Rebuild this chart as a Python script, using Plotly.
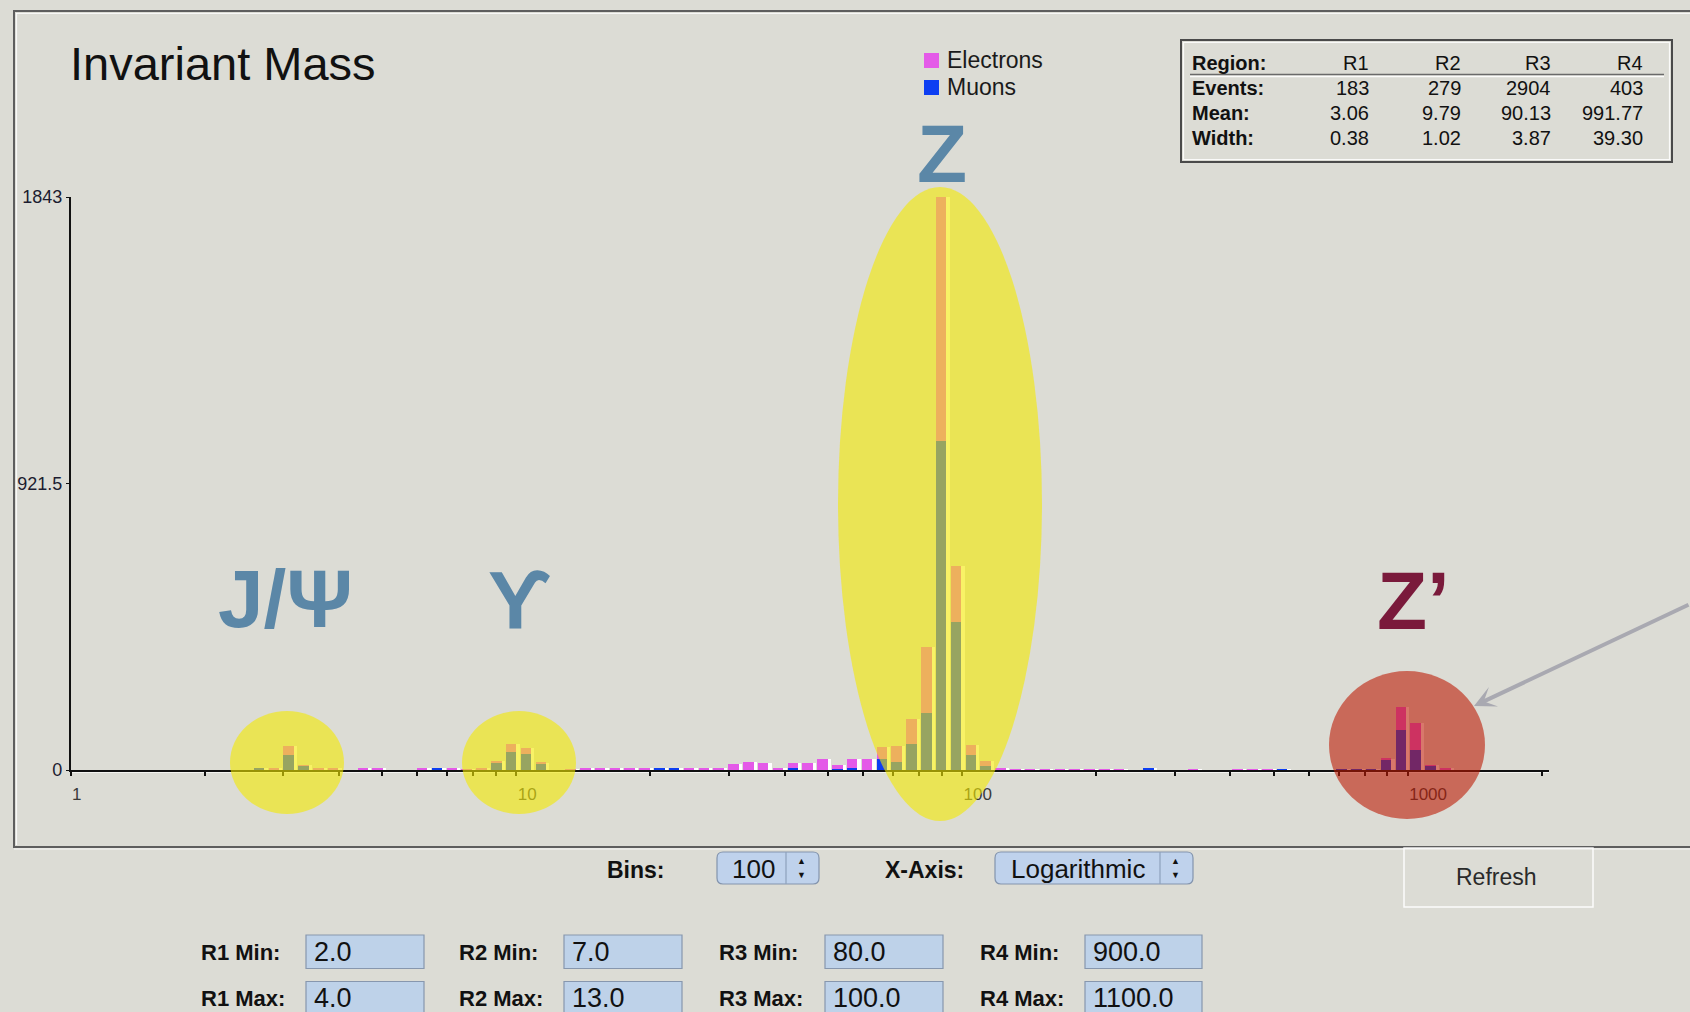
import math
import plotly.graph_objects as go

W, H = 1690, 1012

# ---------------- data ----------------
N_BINS = 100
LOG_FIRST_EDGE = 0.006      # log10(GeV) of lower edge of bin 0
LOG_BIN_WIDTH = 0.03327     # bin width in decades

electrons = [
    0, 0, 0, 0, 0, 0, 0, 0, 0, 0,
    0, 0, 0, 4, 29, 2, 4, 4, 0, 4,
    4, 0, 0, 4, 0, 4, 3, 4, 8, 24,
    21, 2, 0, 3, 4, 4, 4, 4, 4, 0,
    0, 4, 4, 5, 18, 27, 21, 8, 13, 21,
    35, 14, 28, 36, 38, 49, 79, 211, 786, 180,
    32, 18, 5, 3, 3, 3, 3, 3, 3, 3,
    3, 0, 0, 0, 0, 3, 0, 0, 3, 3,
    3, 0, 0, 0, 0, 0, 0, 0, 2, 75,
    86, 3, 5, 0, 0, 0, 0, 0, 0, 0,
]
muons = [
    0, 0, 0, 0, 0, 0, 0, 0, 0, 0,
    0, 0, 4, 0, 48, 14, 0, 0, 0, 0,
    0, 0, 0, 0, 4, 0, 0, 0, 21, 59,
    51, 22, 0, 0, 0, 0, 0, 0, 0, 4,
    4, 0, 0, 0, 0, 0, 0, 0, 8, 0,
    0, 2, 8, 0, 35, 27, 84, 184, 1057, 477,
    48, 12, 2, 0, 0, 0, 0, 0, 0, 0,
    0, 0, 4, 0, 0, 0, 0, 0, 0, 0,
    0, 3, 0, 0, 0, 2, 3, 3, 35, 129,
    64, 13, 0, 0, 0, 0, 0, 0, 0, 0,
]

X_TICK_VALUES = [1, 10, 100, 1000]
X_TICK_LABELS = ["1", "10", "100", "1000"]
X_MAX = 2075
Y_TICK_VALUES = [0, 921.5, 1843]
Y_TICK_LABELS = ["0", "921.5", "1843"]

REGIONS = ["R1", "R2", "R3", "R4"]
EVENTS = [183, 279, 2904, 403]
MEANS = [3.06, 9.79, 90.13, 991.77]
WIDTHS = [0.38, 1.02, 3.87, 39.30]
R_MIN = [2.0, 7.0, 80.0, 900.0]
R_MAX = [4.0, 13.0, 100.0, 1100.0]
PEAK_LABELS = ["J/Ψ", "ϒ", "Z", "Z’"]
BINS_CHOICE = "100"
XAXIS_CHOICE = "Logarithmic"

# ---------------- geometry / style ----------------
FONT = "Liberation Sans, Arial, Helvetica, sans-serif"
BG = "#dcdcd5"
E_COLOR = "#e45ae8"
MU_COLOR = "#0d3ef2"
PLOT_L, PLOT_R, PLOT_T, PLOT_B = 70.6, 1549.0, 197.0, 770.0


def px(x):
    return x / W


def py(y):
    return 1 - y / H


centers = [LOG_FIRST_EDGE + LOG_BIN_WIDTH * (i + 0.5) for i in range(N_BINS)]
totals = [e + m for e, m in zip(electrons, muons)]
bw = LOG_BIN_WIDTH

fig = go.Figure()
fig.add_trace(go.Bar(x=centers, y=totals, width=[0.93 * bw] * N_BINS,
                     offset=-0.354 * bw, marker=dict(color="white", line=dict(width=0)),
                     showlegend=False, hoverinfo="skip"))
fig.add_trace(go.Bar(x=centers, y=muons, width=[0.708 * bw] * N_BINS,
                     offset=-0.354 * bw, name="Muons",
                     marker=dict(color=MU_COLOR, line=dict(width=0)), showlegend=False))
fig.add_trace(go.Bar(x=centers, y=electrons, base=muons, width=[0.708 * bw] * N_BINS,
                     offset=-0.354 * bw, name="Electrons",
                     marker=dict(color=E_COLOR, line=dict(width=0)), showlegend=False))

minor_vals = [math.log10(k * 10 ** d) for d in range(4) for k in range(2, 10)
              if k * 10 ** d <= X_MAX]

shapes = []
annotations = []


def text(x, y, s, size, color="#111", weight="normal", xanchor="left", family=FONT):
    annotations.append(dict(x=px(x), y=py(y), xref="paper", yref="paper", text=s,
                            showarrow=False, xanchor=xanchor, yanchor="middle",
                            font=dict(size=size, color=color, family=family, weight=weight)))


def rect(x0, y0, x1, y1, line="#555", lw=1.5, fill="rgba(0,0,0,0)", layer="below"):
    shapes.append(dict(type="rect", xref="paper", yref="paper", x0=px(x0), x1=px(x1),
                       y0=py(y0), y1=py(y1), line=dict(color=line, width=lw),
                       fillcolor=fill, layer=layer))


def hline(x0, x1, y, color, lw, layer="below"):
    shapes.append(dict(type="line", xref="paper", yref="paper", x0=px(x0), x1=px(x1),
                       y0=py(y), y1=py(y), line=dict(color=color, width=lw), layer=layer))


def vline(x, y0, y1, color, lw, layer="below"):
    shapes.append(dict(type="line", xref="paper", yref="paper", x0=px(x), x1=px(x),
                       y0=py(y0), y1=py(y1), line=dict(color=color, width=lw), layer=layer))


def rounded(x0, y0, x1, y1, r, fill, line):
    X = lambda v: px(v)
    Y = lambda v: py(v)
    p = (f"M {X(x0 + r)},{Y(y0)} L {X(x1 - r)},{Y(y0)} Q {X(x1)},{Y(y0)} {X(x1)},{Y(y0 + r)} "
         f"L {X(x1)},{Y(y1 - r)} Q {X(x1)},{Y(y1)} {X(x1 - r)},{Y(y1)} "
         f"L {X(x0 + r)},{Y(y1)} Q {X(x0)},{Y(y1)} {X(x0)},{Y(y1 - r)} "
         f"L {X(x0)},{Y(y0 + r)} Q {X(x0)},{Y(y0)} {X(x0 + r)},{Y(y0)} Z")
    shapes.append(dict(type="path", xref="paper", yref="paper", path=p, fillcolor=fill,
                       line=dict(color=line, width=1.2), layer="below"))


# panel border
rect(14, 11, 1720, 847, line="#5e5e5e", lw=2)
hline(16, 1690, 13.5, "rgba(255,255,255,0.8)", 1.2)
vline(16.5, 13, 845, "rgba(255,255,255,0.8)", 1.2)
hline(14, 1690, 849, "rgba(255,255,255,0.8)", 1.2)

# x-axis white shadow
hline(PLOT_L, PLOT_R, 772, "rgba(255,255,255,0.9)", 1.5)

# title
text(68, 63.5, "Invariant Mass", 47, color="#111")

# legend
rect(924, 53, 939, 68, line=E_COLOR, lw=0, fill=E_COLOR)
rect(924, 80, 939, 95, line=MU_COLOR, lw=0, fill=MU_COLOR)
text(945, 60, "Electrons", 23, color="#1a1a1a")
text(945, 87, "Muons", 23, color="#1a1a1a")

# stats table
rect(1181, 40, 1672, 162, line="#4a4a4a", lw=2)
rect(1183.5, 42.5, 1669.5, 159.5, line="rgba(255,255,255,0.85)", lw=1.2)
hline(1190, 1664, 74.5, "#6a6a6a", 1.5)
hline(1190, 1664, 76.5, "rgba(255,255,255,0.9)", 1.5)
col_right = [1371, 1463, 1553, 1645]
row_y = [62.5, 88, 113, 138]
text(1190, row_y[0], "Region:", 20, weight="bold")
text(1190, row_y[1], "Events:", 20, weight="bold")
text(1190, row_y[2], "Mean:", 20, weight="bold")
text(1190, row_y[3], "Width:", 20, weight="bold")
for j in range(4):
    text(col_right[j], row_y[0], REGIONS[j], 20, xanchor="right")
    text(col_right[j], row_y[1], f"{EVENTS[j]}", 20, xanchor="right")
    text(col_right[j], row_y[2], f"{MEANS[j]:.2f}", 20, xanchor="right")
    text(col_right[j], row_y[3], f"{WIDTHS[j]:.2f}", 20, xanchor="right")

# highlight ellipses (above bars)
for (x0, y0, x1, y1) in [(230, 711, 344, 814), (462, 711, 576, 814), (838, 187, 1042, 821)]:
    shapes.append(dict(type="circle", xref="paper", yref="paper", x0=px(x0), x1=px(x1),
                       y0=py(y0), y1=py(y1), fillcolor="rgba(243,234,0,0.6)",
                       line=dict(width=0), layer="above"))
shapes.append(dict(type="circle", xref="paper", yref="paper", x0=px(1329), x1=px(1485),
                   y0=py(671), y1=py(819), fillcolor="rgba(188,22,0,0.58)",
                   line=dict(width=0), layer="above"))

# peak labels
peak_pos = [(285.5, 598), (519.5, 600), (941.5, 153), (1413.5, 600.5)]
peak_col = ["#5b87a7", "#5b87a7", "#5b87a7", "#7a1a3b"]
for lab, (x, y), c in zip(PEAK_LABELS, peak_pos, peak_col):
    text(x, y, lab, 82, color=c, weight="bold", xanchor="center")

# arrow to Z'
annotations.append(dict(x=px(1474), y=py(706), xref="paper", yref="paper", text="",
                        showarrow=True, ax=216, ay=-102, axref="pixel", ayref="pixel",
                        arrowhead=3, arrowsize=0.9, arrowwidth=4, arrowcolor="#a9a9b1",
                        standoff=0))

# controls row
text(635.5, 870, "Bins:", 23, weight="bold", xanchor="center")
rounded(717, 852, 819, 884, 6, "#bfd2ec", "#8394ad")
vline(786, 852, 884, "#8ea1bc", 1.2)
text(753, 868.5, BINS_CHOICE, 26, xanchor="center")
text(801, 861, "▲", 9, xanchor="center")
text(801, 875, "▼", 9, xanchor="center")

text(924.5, 870, "X-Axis:", 23, weight="bold", xanchor="center")
rounded(995, 852, 1193, 884, 6, "#bfd2ec", "#8394ad")
vline(1160, 852, 884, "#8ea1bc", 1.2)
text(1078, 868.5, XAXIS_CHOICE, 26, xanchor="center")
text(1175, 861, "▲", 9, xanchor="center")
text(1175, 875, "▼", 9, xanchor="center")

rect(1404, 848, 1593, 907, line="rgba(255,255,255,0.9)", lw=1.5)
text(1496, 877, "Refresh", 23, color="#2a2a2a", xanchor="center")

# region range fields
label_x = [199, 457, 717, 978]
field_x = [(306, 424), (564, 682), (825, 943), (1085, 1202)]
for j in range(4):
    for (lab, vals, yc, y0, y1) in [("Min", R_MIN, 952, 935, 968.5), ("Max", R_MAX, 998, 981.5, 1016)]:
        text(label_x[j], yc, f"{REGIONS[j]} {lab}:", 22, weight="bold")
        rect(field_x[j][0], y0, field_x[j][1], y1, line="#8797ae", lw=1.2, fill="#bed2e9")
        text(field_x[j][0] + 6, yc, f"{vals[j]:.1f}", 27)

fig.update_layout(
    width=W, height=H, template="none",
    margin=dict(l=0, r=0, t=0, b=0),
    paper_bgcolor=BG, plot_bgcolor="rgba(0,0,0,0)",
    barmode="overlay", bargap=0,
    font=dict(family=FONT),
    shapes=shapes, annotations=annotations,
    showlegend=False,
    xaxis=dict(domain=[px(PLOT_L), px(PLOT_R)], range=[0, math.log10(X_MAX)],
               showgrid=False, zeroline=False, showline=True, linecolor="#111", linewidth=1.5,
               tickvals=[math.log10(v) for v in X_TICK_VALUES], ticktext=X_TICK_LABELS,
               ticks="outside", ticklen=4, tickwidth=1.5, tickcolor="#111",
               ticklabelposition="outside right", ticklabelstandoff=8,
               tickfont=dict(size=17, color="#3a3a3a"),
               minor=dict(tickvals=minor_vals, ticks="outside", ticklen=4, tickwidth=1.5,
                          tickcolor="#111", showgrid=False)),
    yaxis=dict(domain=[py(PLOT_B), py(PLOT_T)], range=[0, 1843],
               showgrid=False, zeroline=False, showline=True, linecolor="#111", linewidth=1.5,
               tickvals=Y_TICK_VALUES, ticktext=Y_TICK_LABELS,
               ticks="outside", ticklen=3, tickwidth=1.2, tickcolor="#111",
               tickfont=dict(size=18, color="#1c1c30")),
)

fig.write_html("out.html", config={"displayModeBar": False},
               post_script="document.body.style.margin='0px';document.body.style.overflow='hidden';")
